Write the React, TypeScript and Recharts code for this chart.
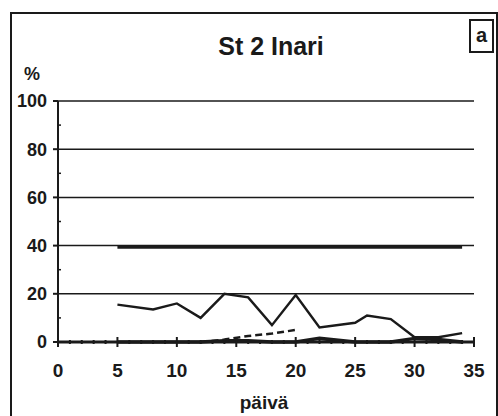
import { LineChart, Line, XAxis, YAxis, CartesianGrid } from 'recharts'

const days = [5, 8, 10, 12, 14, 16, 18, 20, 22, 25, 26, 28, 30, 32, 34]
const mainSeries = [15.5, 13.5, 16, 10, 20, 18.5, 7, 19.5, 6, 8, 11, 9.5, 2, 2, 3.7]
const levelSeries = [39.3, 39.3, 39.3, 39.3, 39.3, 39.3, 39.3, 39.3, 39.3, 39.3, 39.3, 39.3, 39.3, 39.3, 39.3]
const dashedSeries = [null, null, null, 0, 1, 2.5, 3.5, 5, null, null, null, null, null, null, null]
const lowSeries = [0, 0, 0, 0, 0.5, 0.5, 0, 0, 1.5, 0, 0, 0, 1.5, 1, 0]

const xTicks = [0, 1, 2, 3, 4, 5, 6, 7, 8, 9, 10, 11, 12, 13, 14, 15, 16, 17, 18, 19, 20, 21, 22, 23, 24, 25, 26, 27, 28, 29, 30, 31, 32, 33, 34, 35]
const yTicks = [0, 10, 20, 30, 40, 50, 60, 70, 80, 90, 100]

const data = days.map((d, i) => ({
  day: d,
  main: mainSeries[i],
  level: levelSeries[i],
  dashed: dashedSeries[i],
  low: lowSeries[i],
}))

const ink = '#1a1a1a'
const font = '"Liberation Sans", Arial, sans-serif'

// tickSize/tickMargin are 0, so x,y sit on the axis line
const XTick = ({ x, y, payload }: any) => {
  const major = payload.value % 5 === 0
  return (
    <g>
      <line x1={x} x2={x} y1={y - (major ? 5 : 2)} y2={y + (major ? 5 : 2)} stroke={ink} strokeWidth={2} />
      {major && (
        <text x={x} y={y + 28} dy="0.35em" textAnchor="middle" fontSize={19} fontWeight={700} fontFamily={font} fill={ink}>
          {payload.value}
        </text>
      )}
    </g>
  )
}

const YTick = ({ x, y, payload }: any) => {
  const major = payload.value % 20 === 0
  return (
    <g>
      {major ? (
        <line x1={x - 5} x2={x} y1={y} y2={y} stroke={ink} strokeWidth={2} />
      ) : (
        <line x1={x} x2={x + 3} y1={y} y2={y} stroke={ink} strokeWidth={1.5} />
      )}
      {major && (
        <text x={x - 11} y={y} dy="0.35em" textAnchor="end" fontSize={18} fontWeight={700} fontFamily={font} fill={ink}>
          {payload.value}
        </text>
      )}
    </g>
  )
}

export default function App() {
  return (
    <div style={{ position: 'absolute', left: 0, top: 0, width: 498, height: 416, background: '#fff', overflow: 'hidden', fontFamily: font }}>
      <div style={{ position: 'absolute', left: 10, top: 12, width: 488, height: 420, border: `2px solid ${ink}`, boxSizing: 'border-box' }} />
      <div style={{ position: 'absolute', left: 0, width: 542, top: 32, textAlign: 'center', fontSize: 25, fontWeight: 700, color: ink }}>
        St 2 Inari
      </div>
      <div style={{ position: 'absolute', left: 469, top: 19, width: 25, height: 34, border: `2px solid ${ink}`, boxSizing: 'border-box', textAlign: 'center', fontSize: 20, fontWeight: 700, lineHeight: '28px', color: ink }}>
        a
      </div>
      <div style={{ position: 'absolute', left: 24, top: 64, fontSize: 18, fontWeight: 700, color: ink }}>%</div>
      <div style={{ position: 'absolute', left: 0, width: 528, top: 392, textAlign: 'center', fontSize: 19, fontWeight: 700, color: ink }}>
        päivä
      </div>
      <div style={{ position: 'absolute', left: 0, top: 0 }}>
        <LineChart width={498} height={416} data={data} margin={{ top: 101, right: 24, bottom: 34, left: 18 }}>
          <CartesianGrid vertical={false} horizontalValues={[20, 40, 60, 80, 100]} stroke={ink} strokeWidth={1.5} strokeOpacity={1} />
          <XAxis
            type="number"
            dataKey="day"
            domain={[0, 35]}
            ticks={xTicks}
            interval={0}
            height={40}
            tickSize={0}
            tickMargin={0}
            tick={<XTick />}
            axisLine={{ stroke: ink, strokeWidth: 3 }}
          />
          <YAxis
            type="number"
            domain={[0, 100]}
            ticks={yTicks}
            interval={0}
            width={40}
            tickSize={0}
            tickMargin={0}
            tick={<YTick />}
            axisLine={{ stroke: ink, strokeWidth: 2 }}
          />
          <Line dataKey="level" stroke={ink} strokeWidth={3} dot={false} isAnimationActive={false} />
          <Line dataKey="low" stroke={ink} strokeWidth={3.5} dot={false} isAnimationActive={false} />
          <Line dataKey="dashed" stroke={ink} strokeWidth={2.5} strokeDasharray="7 4" dot={false} isAnimationActive={false} />
          <Line dataKey="main" stroke={ink} strokeWidth={2.4} dot={false} isAnimationActive={false} />
        </LineChart>
      </div>
    </div>
  )
}
